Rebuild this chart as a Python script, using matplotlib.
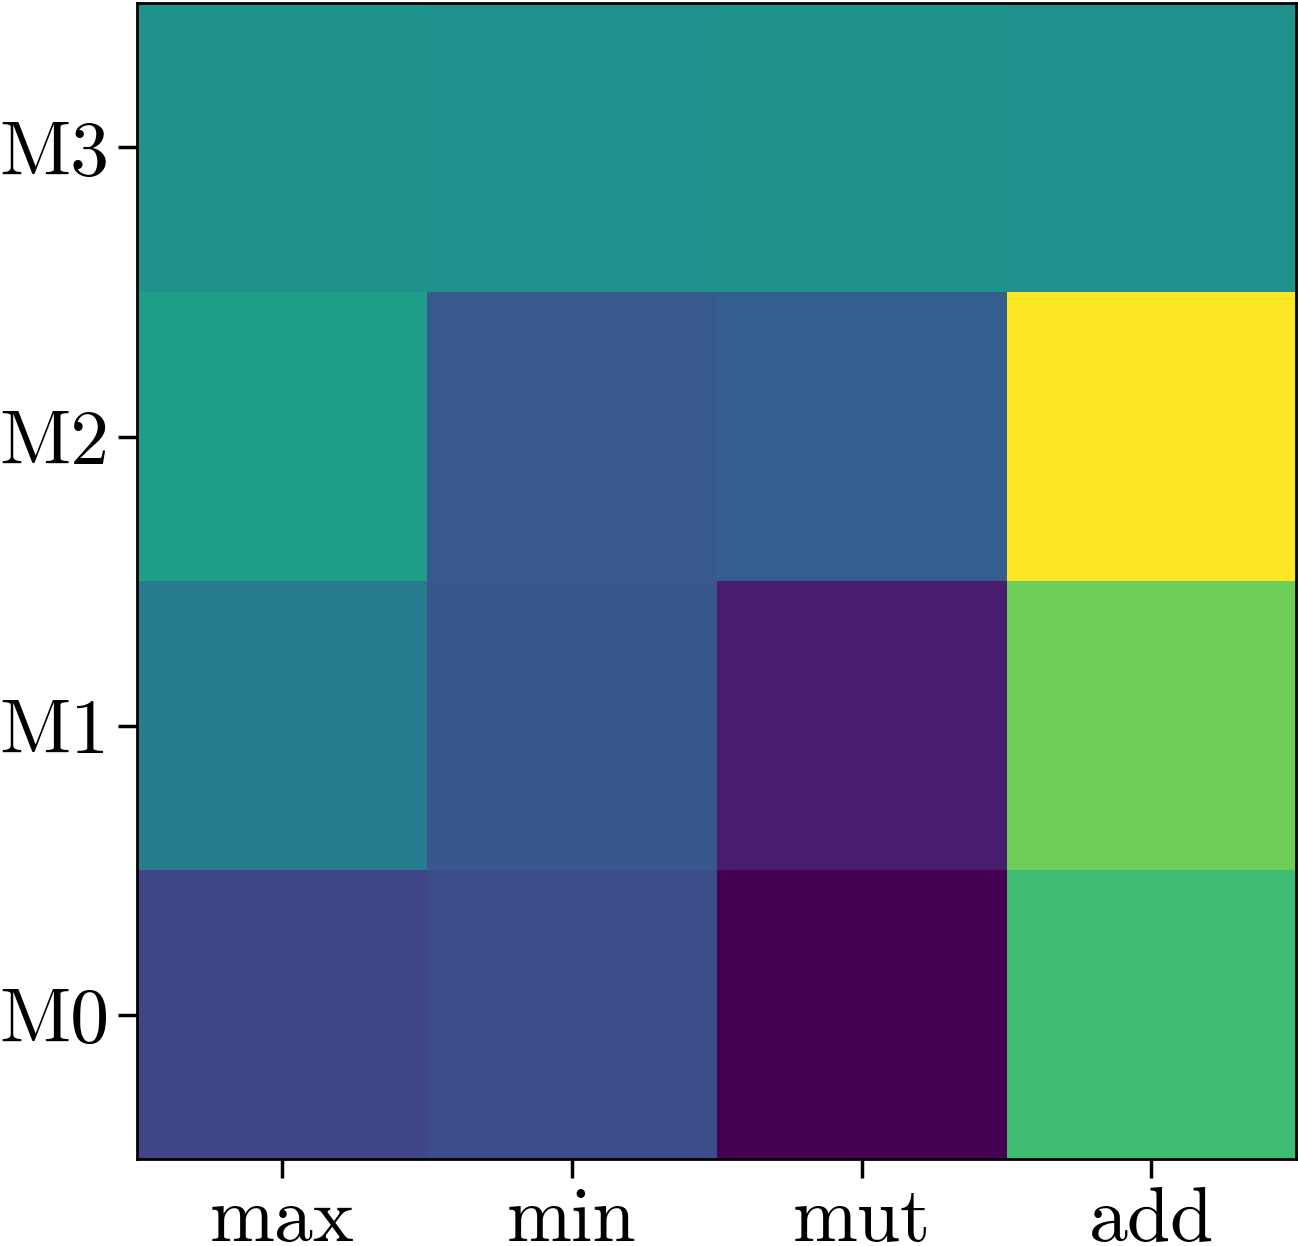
import numpy as np
import matplotlib
matplotlib.use("Agg")
import matplotlib.pyplot as plt

plt.rcParams['font.family'] = ['cmr10', 'DejaVu Serif']
plt.rcParams['mathtext.fontset'] = 'cm'
plt.rcParams['axes.unicode_minus'] = False

# columns and rows of the heatmap (row 0 is drawn at the bottom)
col_labels = ['max', 'min', 'mut', 'add']
row_labels = ['M0', 'M1', 'M2', 'M3']

# values (viridis, normalised 0..1)
m0 = [0.21, 0.24, 0.00, 0.69]
m1 = [0.42, 0.27, 0.08, 0.78]
m2 = [0.56, 0.28, 0.30, 1.00]
m3 = [0.51, 0.50, 0.51, 0.50]

data = np.array([m0, m1, m2, m3])

fig = plt.figure(figsize=(12.98, 12.46), dpi=100)
ax = fig.add_axes([0.1055, 0.0698, 0.8932, 0.9278])
ax.imshow(data, cmap='viridis', origin='lower', aspect='auto', vmin=0, vmax=1)

ax.set_xticks(range(len(col_labels)))
ax.set_xticklabels(col_labels)
ax.set_yticks(range(len(row_labels)))
ax.set_yticklabels(row_labels)
ax.tick_params(labelsize=56, length=14, width=2.5, pad=6)
for s in ax.spines.values():
    s.set_linewidth(2)

fig.savefig('out.png', dpi=100)
